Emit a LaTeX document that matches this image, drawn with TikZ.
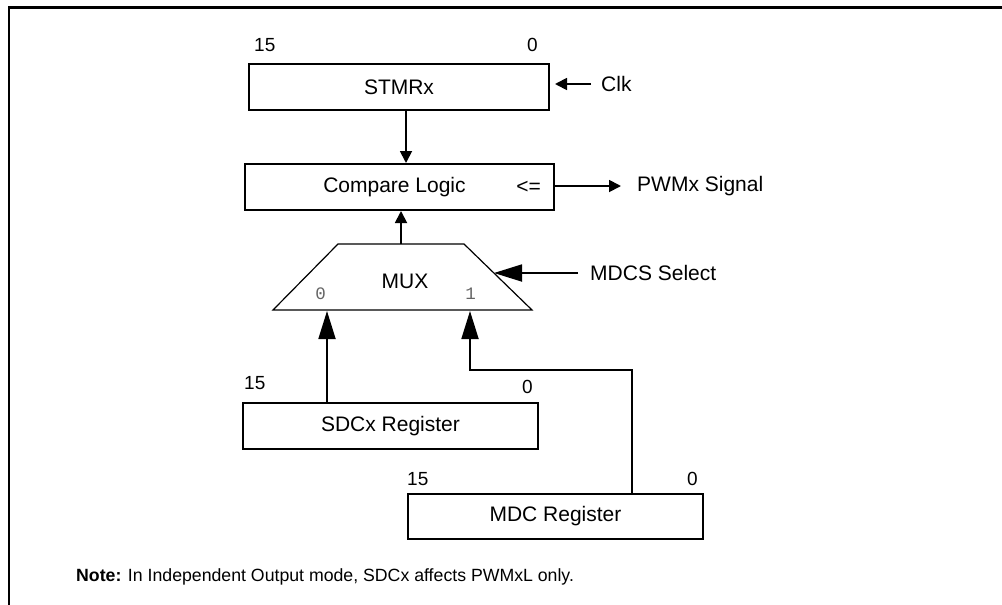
\documentclass[tikz,border=0pt]{standalone}
\usepackage{fontspec}
\setmainfont{Liberation Sans}
\newfontfamily\portfont{Liberation Mono}
\usetikzlibrary{arrows.meta,positioning}
\definecolor{portgray}{RGB}{100,100,100}

\begin{document}
\begin{tikzpicture}[x=1pt, y=-1pt,
    reg/.style={draw, line width=2pt, minimum height=46pt, inner sep=0pt},
    lbl/.style={font=\fontsize{21}{25}\selectfont, inner sep=0pt},
    bitlbl/.style={font=\fontsize{19}{23}\selectfont, inner sep=0pt},
    port/.style={font=\portfont\fontsize{17.5}{20}\selectfont, text=portgray, inner sep=0pt},
    sm/.style={-{Triangle[length=12pt,width=12pt]}, line width=1.8pt},
    bg/.style={-{Triangle[length=28pt,width=17pt]}, line width=1.8pt}]
    \useasboundingbox (0,0) rectangle (1002,605);

    % frame
    \draw[line width=2.5pt] (9,605) -- (9,7.5) -- (1002,7.5);

    % registers and compare
    \node[reg, lbl, minimum width=300pt] (stmr) at (399,87) {STMRx};
    \node[reg, minimum width=309pt] (cmp) at (399.5,187) {};
    \node[lbl] (cmpl) at (394.5,187) {Compare Logic};
    \node[lbl, anchor=east] (le) at ([xshift=-14pt]cmp.east) {<=};
    \node[reg, lbl, minimum width=295pt] (sdc) at (390.5,426) {SDCx Register};
    \node[reg, lbl, minimum width=295pt, minimum height=45pt] (mdc) at (555.5,516.5) {MDC Register};

    % bit numbers
    \node[bitlbl, anchor=south west] (stmr15) at ([xshift=6pt,yshift=11pt]stmr.north west) {15};
    \node[bitlbl, anchor=south east] (stmr0) at ([xshift=-12pt,yshift=11pt]stmr.north east) {0};
    \node[bitlbl, anchor=south west] (sdc15) at ([xshift=2pt,yshift=12pt]sdc.north west) {15};
    \node[bitlbl, anchor=south east] (sdc0) at ([xshift=-6pt,yshift=8pt]sdc.north east) {0};
    \node[bitlbl, anchor=south west] (mdc15) at ([xshift=0pt,yshift=7pt]mdc.north west) {15};
    \node[bitlbl, anchor=south east] (mdc0) at ([xshift=-6pt,yshift=7pt]mdc.north east) {0};

    % mux
    \draw[line width=1.2pt] (273,310) -- (338,244) -- (464,244) -- (532,310) -- cycle;
    \node[lbl] (mux) at (405,281) {MUX};
    \node[port] (p0) at (320.5,294) {0};
    \node[port] (p1) at (470.5,294) {1};
    \coordinate (muxout) at (401,244);
    \coordinate (muxsel) at (494,273);
    \coordinate (muxin0) at (327,311);
    \coordinate (muxin1) at (470,311);
    \coordinate (bend) at (470,370);

    % side signals
    \node[lbl, anchor=west] (clk) at (601,84) {Clk};
    \node[lbl, anchor=west] (pwm) at (637,186) {PWMx Signal};
    \node[lbl, anchor=west] (sel) at (590,273) {MDCS Select};

    % connections
    \draw[sm, shorten <=10pt, shorten >=5pt] (clk.west) -- (stmr.east |- clk.west);
    \draw[sm] ([xshift=7pt]stmr.south) -- ([xshift=6.5pt]cmp.north);
    \draw[sm, shorten >=16pt] (cmp.east |- pwm.west) -- (pwm.west);
    \draw[sm] (muxout) -- (muxout |- cmp.south);
    \draw[bg, shorten <=12pt] (sel.west) -- (muxsel);
    \draw[bg] (sdc.north -| muxin0) -- (muxin0);
    \draw[bg] ([xshift=76.5pt]mdc.north) |- (bend) -- (muxin1);

    % note
    \node[anchor=west, font=\fontsize{17.7}{21}\selectfont, inner sep=0pt] (note) at (76,577)
        {\textbf{Note:} In Independent Output mode, SDCx affects PWMxL only.};
\end{tikzpicture}
\end{document}
